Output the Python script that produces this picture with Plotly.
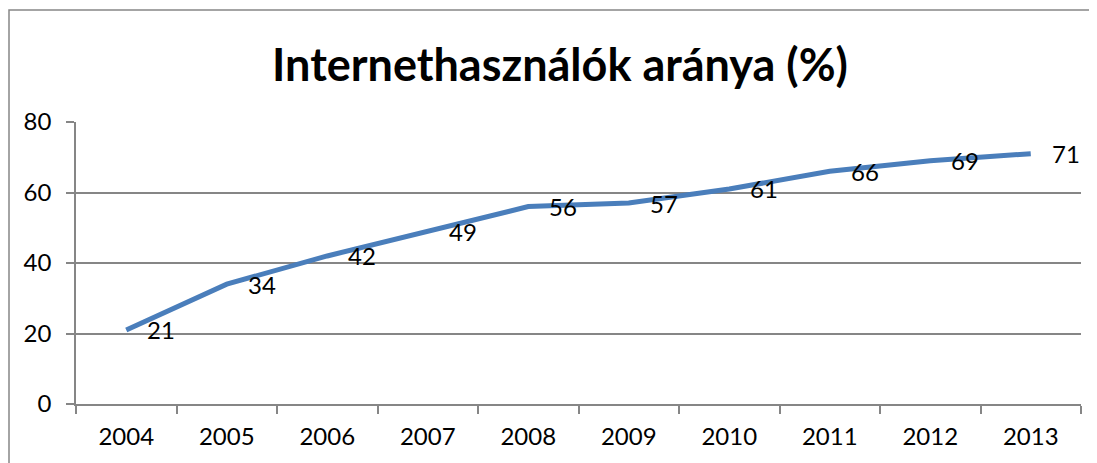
import plotly.graph_objects as go

years = ["2004", "2005", "2006", "2007", "2008", "2009", "2010", "2011", "2012", "2013"]
values = [21, 34, 42, 49, 56, 57, 61, 66, 69, 71]
title_text = "Internethasználók aránya (%)"
y_ticks = [0, 20, 40, 60, 80]

FONT = "Lato"
OFF = 8  # page body margin
W, H = 1097 - OFF, 463 - OFF
# target pixel positions in the window
PL, PR, PT, PB = 76, 1081, 122, 404
L, R, T, B = PL - OFF, (1097 - PR), PT - OFF, (463 - PB)
pw, ph = PR - PL, PB - PT

fig = go.Figure()
fig.add_trace(go.Scatter(
    x=years, y=values, mode="lines",
    line=dict(color="#4A7EBB", width=5),
    hoverinfo="x+y", showlegend=False,
))

for i, v in enumerate(values):
    fig.add_annotation(x=i, y=v, text=str(v), showarrow=False,
                       xref="x", yref="y",
                       xanchor="center", yanchor="middle", xshift=35,
                       font=dict(family=FONT, size=24, color="#000000"))

# chart frame
fig.add_shape(type="rect", xref="paper", yref="paper",
              x0=(OFF + 1 - PL) / pw, x1=(1097 + 30 - PL) / pw,
              y0=-(463 + 30 - PB) / ph, y1=(PB - 10) / ph,
              line=dict(color="#868686", width=1.5), fillcolor="rgba(0,0,0,0)", layer="below")

fig.update_layout(
    width=W, height=H,
    margin=dict(l=L, r=R, t=T, b=B),
    paper_bgcolor="white", plot_bgcolor="white",
    title=dict(text=f"<b>{title_text}</b>", xref="container", yref="container",
               x=(560 - OFF) / W, y=1 - (65 - OFF) / H, xanchor="center", yanchor="middle",
               font=dict(family=FONT, size=45, color="#000000")),
    xaxis=dict(type="category", range=[-0.5, len(years) - 0.5],
               tickson="boundaries", ticks="outside", ticklen=8, tickwidth=1.5,
               tickcolor="#868686", showgrid=False, showline=True,
               linecolor="#868686", linewidth=1.5,
               ticklabelstandoff=10,
               tickfont=dict(family=FONT, size=24, color="#000000")),
    yaxis=dict(range=[0, 80], tickvals=y_ticks, ticks="outside", ticklen=8,
               tickwidth=1.5, tickcolor="#868686", showgrid=True,
               gridcolor="#868686", gridwidth=1.5, showline=True,
               linecolor="#868686", linewidth=1.5, zeroline=False,
               ticklabelstandoff=10,
               tickfont=dict(family=FONT, size=24, color="#000000")),
)

fig.write_html("out.html")
